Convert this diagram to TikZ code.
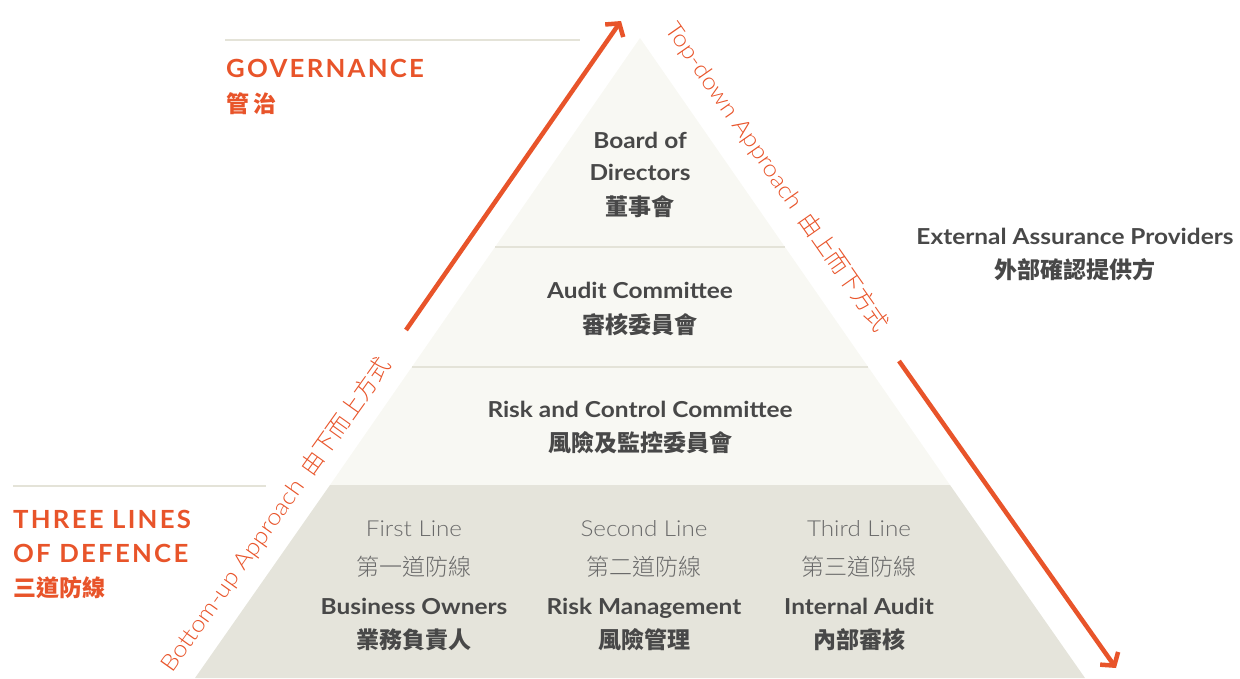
\documentclass[tikz,border=0pt]{standalone}
\usepackage{fontspec}
\setmainfont{Lato}[FakeStretch=1.11]
\newfontfamily\cjk{Noto Sans CJK TC}
\newfontfamily\latolight{Lato Light}[FakeStretch=1.1]
\newfontfamily\cjklight{Noto Sans CJK TC Light}
\newfontfamily\headfont{Lato}[LetterSpace=9, FakeStretch=1.03]
\usetikzlibrary{arrows.meta}
\definecolor{orng}{HTML}{E8542A}
\definecolor{darktxt}{HTML}{484848}
\definecolor{lighttxt}{HTML}{6A6A6A}
\definecolor{pale}{HTML}{F8F8F3}
\definecolor{band}{HTML}{E5E4DB}
\definecolor{rule}{HTML}{E4E3D8}
\tikzset{
  bt/.style={anchor=base, inner sep=0pt, text=darktxt, font=\fontsize{22}{26}\selectfont\bfseries},
  bc/.style={anchor=base, inner sep=0pt, text=darktxt, font=\fontsize{23}{26}\selectfont\cjk\bfseries},
  lt/.style={anchor=base, inner sep=0pt, text=lighttxt, font=\fontsize{22}{26}\selectfont\latolight},
  lc/.style={anchor=base, inner sep=0pt, text=lighttxt, font=\fontsize{23}{26}\selectfont\cjklight},
  hd/.style={anchor=base west, inner sep=0pt, text=orng, font=\fontsize{25}{30}\selectfont\headfont\bfseries},
  hc/.style={anchor=base west, inner sep=0pt, text=orng, font=\fontsize{23}{26}\selectfont\cjk\bfseries},
  rot/.style={anchor=center, inner sep=0pt, text=orng, font=\fontsize{23}{26}\selectfont},
  divider/.style={draw=rule, line width=1.8pt},
  arr/.style={draw=orng, line width=4.5pt, -{Straight Barb[length=9pt, width=22pt]}},
}
\begin{document}
\begin{tikzpicture}[x=1pt,y=-1pt]
\useasboundingbox (0,0) rectangle (1240,678);
% pyramid
\fill[pale] (640,38) -- (950,485) -- (330,485) -- cycle;
\fill[band] (330,485) -- (950,485) -- (1085,678) -- (195,678) -- cycle;
\draw[divider] (495,247) -- (785,247);
\draw[divider] (412,367) -- (868,367);
% heading rules
\draw[divider] (225,40) -- (580,40);
\draw[divider] (13,486) -- (266,486);
% headings
\node[hd] (gov) at (226,77) {GOVERNANCE};
\node[hc] (govc) at (226,112) {管\,治};
\node[hd] (tl1) at (13,528) {THREE LINES};
\node[hd] (tl2) at (13,562) {OF DEFENCE};
\node[hc] (tlc) at (13,596) {三道防線};
% pyramid levels
\node[bt] (bod1) at (640,148) {Board of};
\node[bt] (bod2) at (640,180) {Directors};
\node[bc] (bodc) at (640,215) {董事會};
\node[bt] (ac) at (640,298) {Audit Committee};
\node[bc] (acc) at (640,333) {審核委員會};
\node[bt] (rc) at (640,417) {Risk and Control Committee};
\node[bc] (rcc) at (640,451) {風險及監控委員會};
% external
\node[bt] (ext) at (1075,244) {External Assurance Providers};
\node[bc] (extc) at (1075,278) {外部確認提供方};
% three lines
\node[lt] (l1) at (414,536) {First Line};
\node[lc] (l1c) at (414,575) {第一道防線};
\node[bt] (l1b) at (414,614) {Business Owners};
\node[bc] (l1bc) at (414,648) {業務負責人};
\node[lt] (l2) at (644,536) {Second Line};
\node[lc] (l2c) at (644,575) {第二道防線};
\node[bt] (l2b) at (644,614) {Risk Management};
\node[bc] (l2bc) at (644,648) {風險管理};
\node[lt] (l3) at (859,536) {Third Line};
\node[lc] (l3c) at (859,575) {第三道防線};
\node[bt] (l3b) at (859,614) {Internal Audit};
\node[bc] (l3bc) at (859,648) {內部審核};
% rotated labels
\node[rot, rotate=54.5] (bu) at (276,515) {\latolight Bottom-up Approach\hspace{11pt}\cjklight 由下而上方式};
\node[rot, rotate=-55] (td) at (777,177) {\latolight Top-down Approach\hspace{11pt}\cjklight 由上而下方式};
% arrows
\coordinate (upS) at (406,330);
\coordinate (upE) at (621,21);
\coordinate (dnS) at (899,361);
\coordinate (dnE) at (1116,668);
\draw[arr] (upS) -- (upE);
\draw[arr] (dnS) -- (dnE);
\end{tikzpicture}
\end{document}
